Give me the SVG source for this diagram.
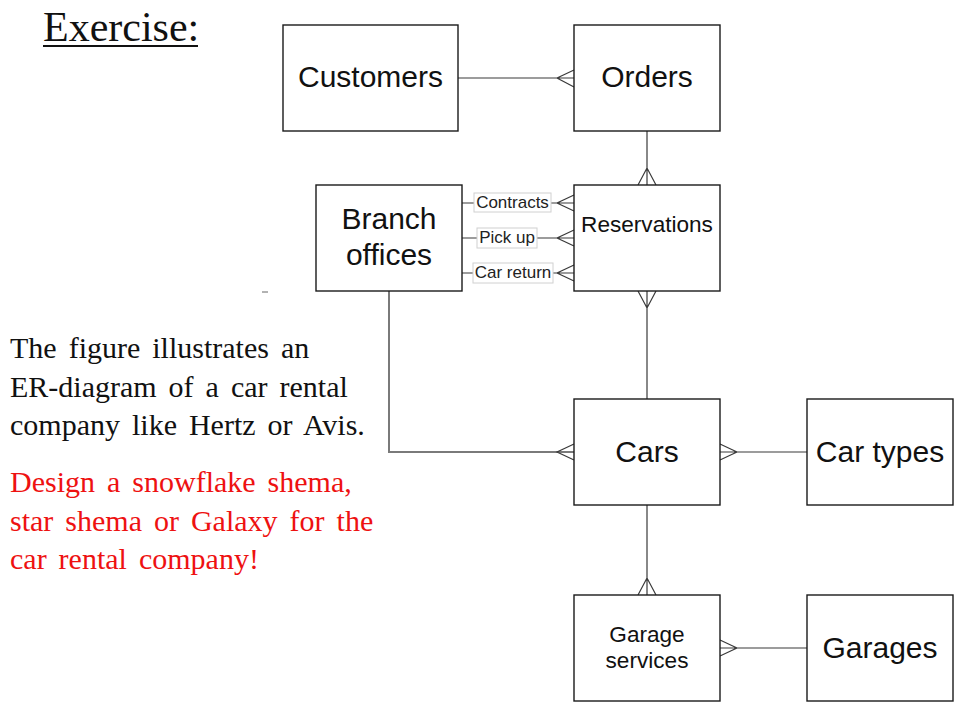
<svg xmlns="http://www.w3.org/2000/svg" width="960" height="720" viewBox="0 0 960 720">
<style>
.box{fill:#fff;stroke:#1a1a1a;stroke-width:1.4}
.lbl{font-family:"Liberation Sans",Arial,sans-serif;fill:#111;text-anchor:middle}
.big{font-size:30px}
.mid{font-size:22.6px}
.rel{font-family:"Liberation Sans",Arial,sans-serif;font-size:17px;fill:#222;text-anchor:middle}
.rbox{fill:#fff;stroke:#d0d0d0;stroke-width:1}
.ln{fill:none;stroke:#3a3a3a;stroke-width:1.2}
.ln2{fill:none;stroke:#7a7a7a;stroke-width:2}
.body{font-family:"Liberation Serif","Times New Roman",serif;font-size:30px;word-spacing:4.5px}
</style>
<rect width="960" height="720" fill="#fff"/>
<text x="43" y="41" font-family="Liberation Serif,'Times New Roman',serif" font-size="42" fill="#111">Exercise:</text>
<line x1="43" y1="46" x2="198" y2="46" stroke="#111" stroke-width="2"/>
<g id="connectors">
<path class="ln" d="M458,78 H574 M574,70 L557,78 L574,87"/>
<path class="ln" d="M647,131 V185 M638,185 L647,168 L656,185"/>
<path class="ln" d="M462,203 H574 M574,195 L557,203 L574,211"/>
<path class="ln" d="M462,238 H574 M574,230 L557,238 L574,246"/>
<path class="ln" d="M462,273 H574 M574,265 L557,273 L574,281"/>
<path class="ln" d="M647,291 V399 M638,291 L647,308 L656,291"/>
<path class="ln2" d="M389,291 V452 H574"/>
<path class="ln" d="M574,444 L557,452 L574,460"/>
<path class="ln" d="M720,452 H807 M720,444 L737,452 L720,460"/>
<path class="ln" d="M647,505 V595 M638,595 L647,578 L656,595"/>
<path class="ln" d="M720,648 H807 M720,640 L737,648 L720,656"/>
<line x1="262" y1="292" x2="268" y2="292" stroke="#666" stroke-width="1"/>
<rect class="rbox" x="474" y="193" width="77" height="19"/>
<text class="rel" x="512.5" y="208">Contracts</text>
<rect class="rbox" x="477" y="228" width="60" height="20"/>
<text class="rel" x="507" y="243">Pick up</text>
<rect class="rbox" x="473" y="263" width="80" height="20"/>
<text class="rel" x="513" y="278">Car return</text>
</g>
<g id="customers"><rect class="box" x="283" y="25" width="175" height="106"/><text class="lbl big" x="370.5" y="87">Customers</text></g>
<g id="orders"><rect class="box" x="574" y="25" width="146" height="106"/><text class="lbl big" x="647" y="87">Orders</text></g>
<g id="branch"><rect class="box" x="316" y="185" width="146" height="106"/><text class="lbl big" x="389" y="229">Branch</text><text class="lbl big" x="389" y="265">offices</text></g>
<g id="reservations"><rect class="box" x="574" y="185" width="146" height="106"/><text class="lbl mid" x="647" y="232">Reservations</text></g>
<g id="cars"><rect class="box" x="574" y="399" width="146" height="106"/><text class="lbl big" x="647" y="462">Cars</text></g>
<g id="cartypes"><rect class="box" x="807" y="399" width="146" height="106"/><text class="lbl big" x="880" y="462">Car types</text></g>
<g id="garageservices"><rect class="box" x="574" y="595" width="146" height="106"/><text class="lbl mid" x="647" y="642">Garage</text><text class="lbl mid" x="647" y="668">services</text></g>
<g id="garages"><rect class="box" x="807" y="595" width="146" height="106"/><text class="lbl big" x="880" y="658">Garages</text></g>
<g id="description">
<text class="body" x="10" y="358" fill="#111">The figure illustrates an</text>
<text class="body" x="10" y="397" fill="#111">ER-diagram of a car rental</text>
<text class="body" x="10" y="435" fill="#111">company like Hertz or Avis.</text>
<text class="body" x="10" y="492" fill="#ee1111">Design a snowflake shema,</text>
<text class="body" x="10" y="531" fill="#ee1111">star shema or Galaxy for the</text>
<text class="body" x="10" y="569" fill="#ee1111">car rental company!</text>
</g>
</svg>
